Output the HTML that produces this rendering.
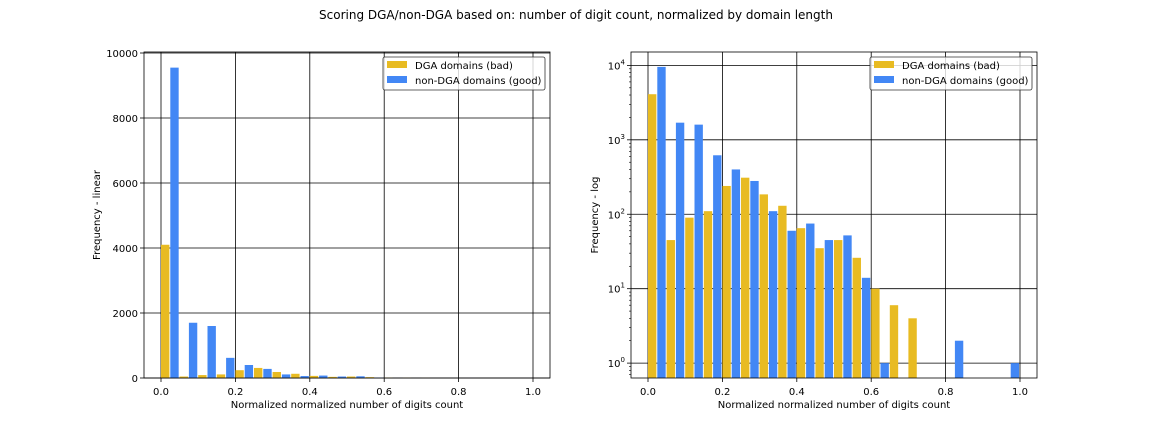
<!DOCTYPE html>
<html><head><meta charset="utf-8"><style>
body{margin:0;background:#fff;width:1152px;height:432px;overflow:hidden}
svg text{font-family:"DejaVu Sans","Liberation Sans",sans-serif;fill:#000}
</style></head><body>
<svg id="fig" width="1152" height="432" viewBox="0 0 1152 432">
<text x="576" y="19" font-size="12" text-anchor="middle">Scoring DGA/non-DGA based on: number of digit count, normalized by domain length</text>
</svg>
<script>
const binEdges=[0,0.05,0.1,0.15,0.2,0.25,0.3,0.35,0.4,0.45,0.5,0.55,0.6,0.65,0.7,0.75,0.8,0.85,0.9,0.95];
const dgaCounts=[4100,45,90,110,240,310,185,130,65,35,45,26,10,6,4,0,0,0,0,0];
const nonDgaCounts=[9550,1700,1600,620,400,280,110,60,75,45,52,14,1,0,0,0,2,0,0,1];
const xTicks=[0,0.2,0.4,0.6,0.8,1.0];
const xTickLabels=["0.0","0.2","0.4","0.6","0.8","1.0"];
const linTicks=[0,2000,4000,6000,8000,10000];
const logTicks=[0,1,2,3,4];
const NS="http://www.w3.org/2000/svg";
const svg=document.getElementById('fig');
const GOLD="#e8bb22",BLUE="#4287f5";
function mk(tag,attrs,parent){const e=document.createElementNS(NS,tag);for(const k in attrs)e.setAttribute(k,attrs[k]);(parent||svg).appendChild(e);return e;}
function panel(px0,px1,py0,py1,isLog,name){
  const g=mk('g',{});
  
  
  const xmin=-0.0457,xmax=1.0457;
  const X=v=>px0+(v-xmin)/(xmax-xmin)*(px1-px0);
  let Y;
  if(isLog){const lmin=-0.2,lmax=4.18;Y=v=>py1-(Math.log10(v)-lmin)/(lmax-lmin)*(py1-py0);}
  else{Y=v=>py1-v/10000*(py1-py0)*(325/326);}
  const ybase=py1;
  // grid
  xTicks.forEach((t,i)=>{
    const l=mk('line',{x1:X(t),x2:X(t),y1:py0,y2:py1,stroke:'#000','stroke-width':0.8},g);
    
    mk('line',{x1:X(t),x2:X(t),y1:py1,y2:py1+4,stroke:'#000','stroke-width':0.8},g);
    const tx=mk('text',{x:X(t),y:py1+17,'font-size':10,'text-anchor':'middle'},g);tx.textContent=xTickLabels[i];
    
  });
  const yt=isLog?logTicks:linTicks;
  yt.forEach(t=>{
    const yy=isLog?Y(Math.pow(10,t)):Y(t);
    const l=mk('line',{x1:px0,x2:px1,y1:yy,y2:yy,stroke:'#000','stroke-width':0.8},g);
    
    mk('line',{x1:px0-4,x2:px0,y1:yy,y2:yy,stroke:'#000','stroke-width':0.8},g);
    const tx=mk('text',{x:px0-6,y:yy+4,'font-size':10,'text-anchor':'end'},g);
    if(isLog){tx.textContent='10';const s=mk('tspan',{dy:-5,'font-size':7},tx);s.textContent=String(t);}
    else tx.textContent=String(t);
    
  });
  if(isLog){
    for(let d=-1;d<5;d++)for(let m=2;m<10;m++){const v=m*Math.pow(10,d);const yy=Y(v);if(yy>py0&&yy<py1)mk('line',{x1:px0-2,x2:px0,y1:yy,y2:yy,stroke:'#000','stroke-width':0.6},g);}
  }
  // bars
  const bw=0.0225;
  binEdges.forEach((e,i)=>{
    [[dgaCounts[i],0,GOLD,'bar-dga'],[nonDgaCounts[i],0.025,BLUE,'bar-non-dga']].forEach(([v,off,c,n])=>{
      if(v<=0)return;
      const x0=X(e+off),x1=X(e+off+bw),yy=Y(v);
      const r=mk('rect',{x:x0,y:yy,width:x1-x0,height:ybase-yy,fill:c},g);
      
    });
  });
  const fr=mk('rect',{x:px0,y:py0,width:px1-px0,height:py1-py0,fill:'none',stroke:'#000','stroke-width':0.8},g);
  
  const xl=mk('text',{x:(px0+px1)/2,y:py1+30,'font-size':10,'text-anchor':'middle'},g);
  xl.textContent='Normalized normalized number of digits count';
  
  const yl=mk('text',{x:0,y:0,'font-size':10,'text-anchor':'middle',transform:`translate(${isLog?598:100},${(py0+py1)/2}) rotate(-90)`},g);
  yl.textContent=isLog?'Frequency - log':'Frequency - linear';
  
  // legend
  const lg=mk('g',{},g);
  
  const lx=px1-167,ly=py0+5;
  mk('rect',{x:lx,y:ly,width:162,height:33,rx:2,fill:'#fff','fill-opacity':0.8,stroke:'#333','stroke-width':0.8},lg);
  [[GOLD,'DGA domains (bad)'],[BLUE,'non-DGA domains (good)']].forEach(([c,t],i)=>{
    mk('rect',{x:lx+4,y:ly+4+i*15,width:20,height:7,fill:c},lg);
    const tx=mk('text',{x:lx+32,y:ly+12+i*15,'font-size':10},lg);tx.textContent=t;
    
  });
}
panel(144,550,52,378,false,'linear-histogram');
panel(631,1037,52,378,true,'log-histogram');
</script>
</body></html>
